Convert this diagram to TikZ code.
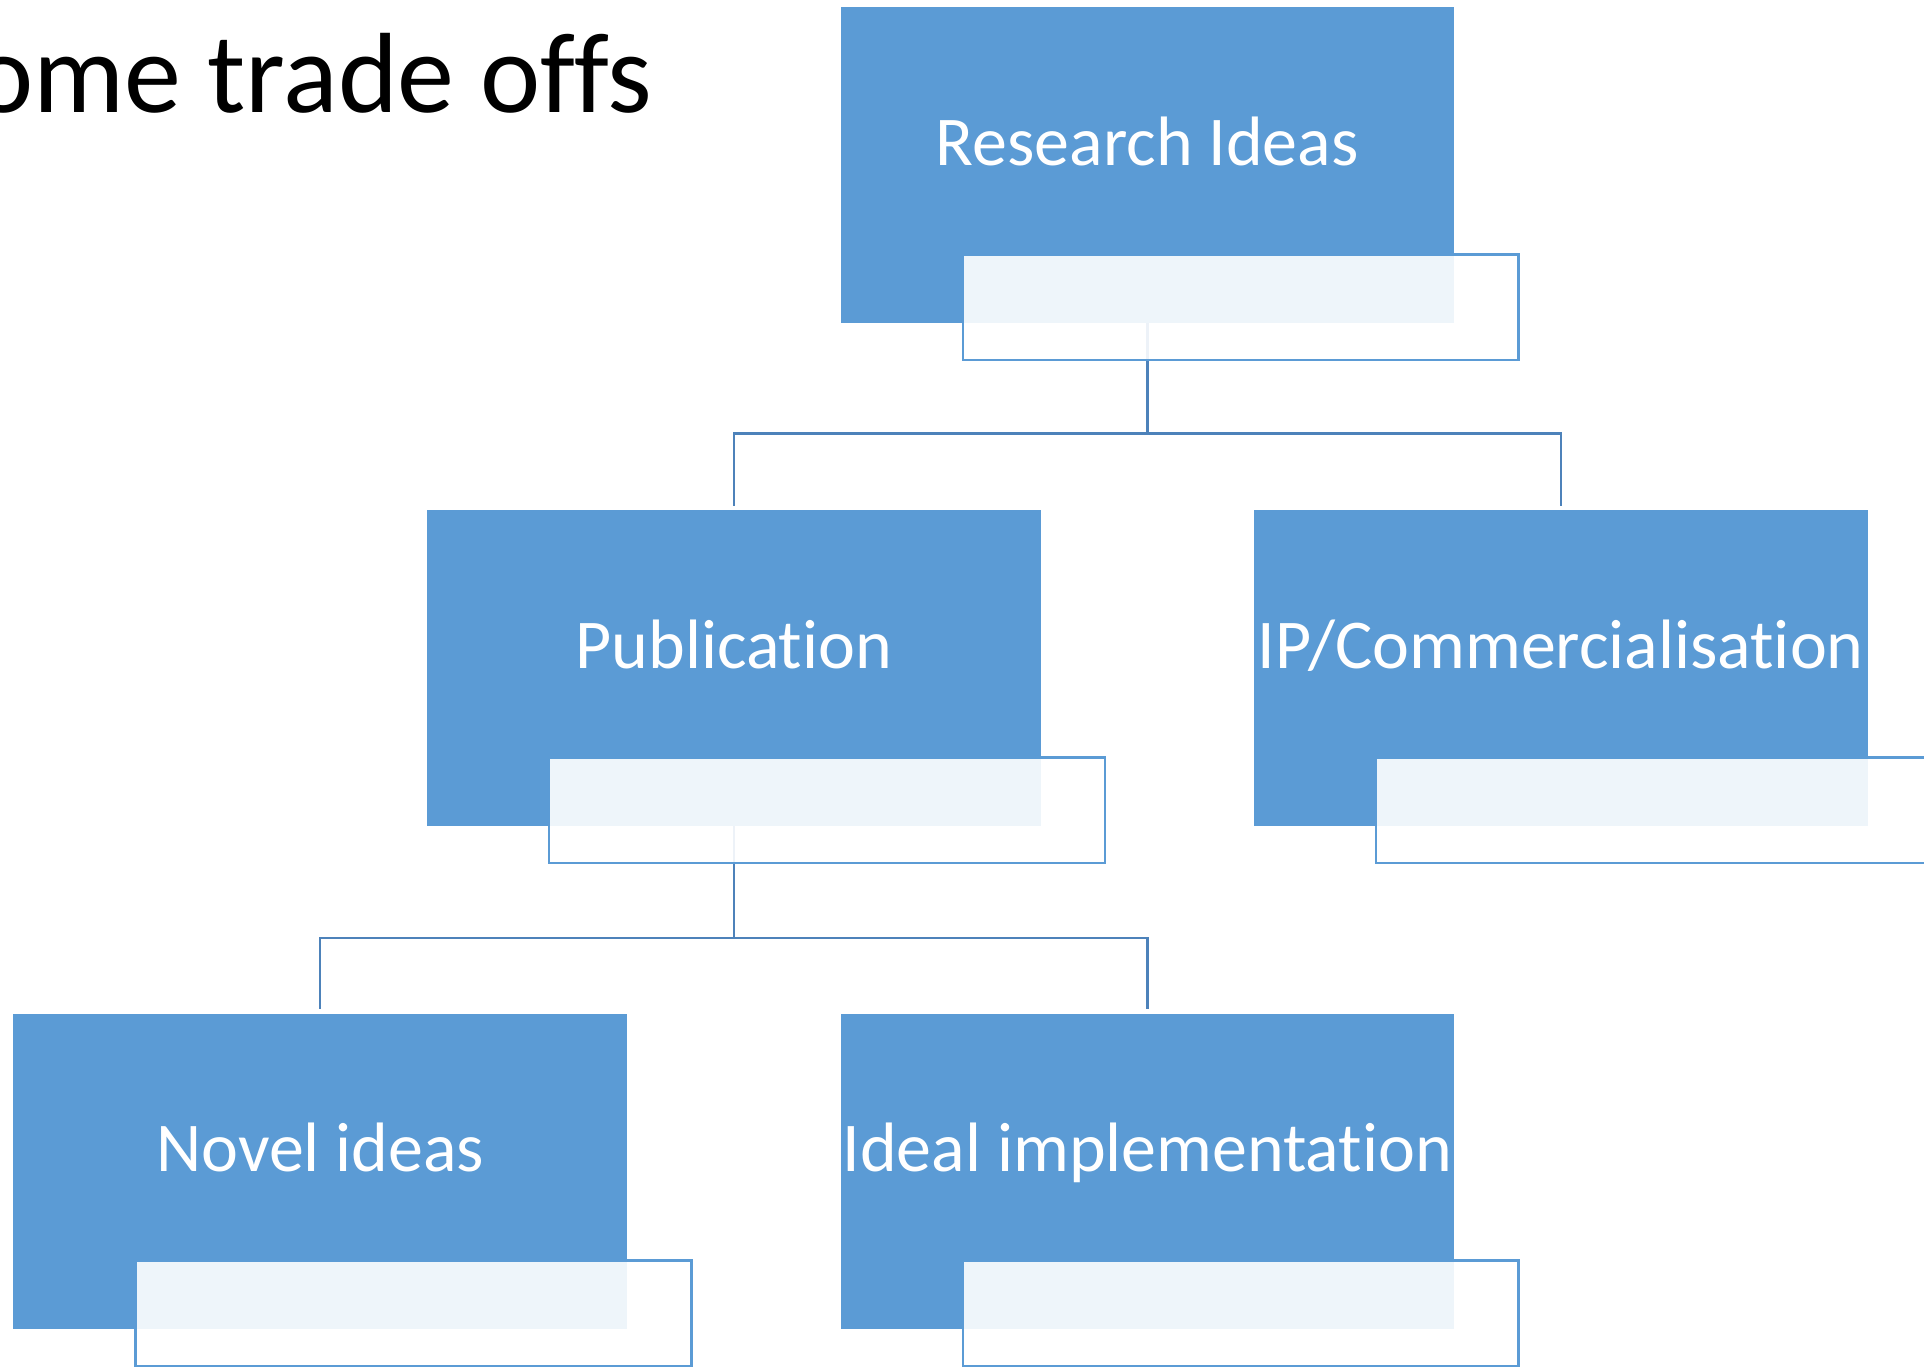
\documentclass[tikz,border=0pt]{standalone}
\usepackage{fontspec}
\setmainfont{Carlito}[Ligatures={NoCommon,NoRequired,NoContextual}]
\usetikzlibrary{positioning, calc, backgrounds}
\definecolor{boxblue}{HTML}{5B9BD5}
\definecolor{lineblue}{HTML}{4D82BA}

\begin{document}
\begin{tikzpicture}[
    x=0.5pt, y=-0.5pt,
    every node/.style={font=\fontsize{28.5}{34}\selectfont},
    card/.style={fill=boxblue, text=white, minimum width=250pt, minimum height=128.5pt,
                 inner sep=0pt, text height=0pt, text depth=0pt},
    namebox/.style={draw=boxblue, line width=1pt, fill=white, fill opacity=0.9},
    conn/.style={draw=lineblue, line width=1pt, shorten >=1.5pt},
    heading/.style={font=\fontsize{46.5}{56}\selectfont, text=black, inner sep=0pt},
]
    \useasboundingbox (0,0) rectangle (1568,1115);

    % Slide title, cut at the left edge.
    \node[heading, anchor=base east] (title) at (532, 92) {ome trade offs};

    % Hierarchy boxes.
    \node[card] (ri)    at (935, 134.5) {Research Ideas};
    \node[card] (pub)   at (598, 544.5) {Publication};
    \node[card] (ip)    at (1272, 544.5) {IP/Commercialisation};
    \node[card] (novel) at (261, 954.5) {Novel ideas};
    \node[card] (ideal) at (935, 954.5) {Ideal implementation};

    % Empty name boxes over each card.
    \foreach \b in {ri,pub,ip,novel,ideal} {
        \draw[namebox] ($(\b.south west)+(100,-56)$) rectangle ($(\b.south east)+(52,30)$);
    }

    % Connectors.
    \begin{scope}[on background layer]
        \draw[conn] (ri.south) -- ++(0,90) -| (pub.north);
        \draw[conn] (ri.south) -- ++(0,90) -| (ip.north);
        \draw[conn] (pub.south) -- ++(0,91) -| (novel.north);
        \draw[conn] (pub.south) -- ++(0,91) -| (ideal.north);
    \end{scope}
\end{tikzpicture}
\end{document}
